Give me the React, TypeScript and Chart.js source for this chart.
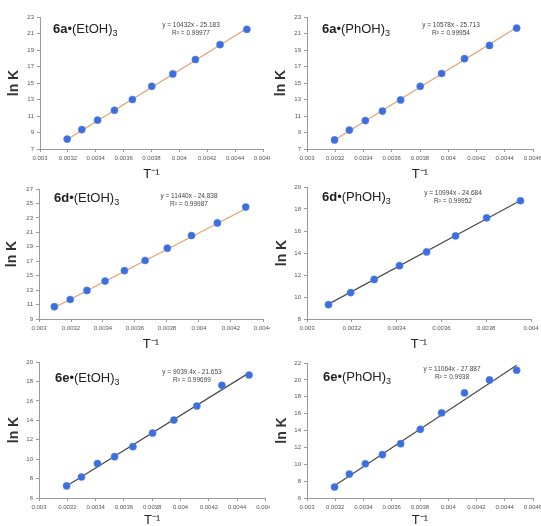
import React, { useEffect, useRef } from "react";
import { Chart, registerables } from "chart.js";

Chart.register(...registerables);

// 1/T values (K^-1)
const invT_313_223 = [0.003195, 0.0033, 0.003413, 0.003534, 0.003663, 0.003802, 0.003953, 0.004115, 0.004292, 0.004484];
const invT_323_233 = [0.003096, 0.003195, 0.0033, 0.003413, 0.003534, 0.003663, 0.003802, 0.003953, 0.004115, 0.004292];
const invT_323_253 = [0.003096, 0.003195, 0.0033, 0.003413, 0.003534, 0.003663, 0.003802, 0.003953];

// ln K values
const lnK_6a_EtOH = [8.2, 9.35, 10.5, 11.7, 13.0, 14.6, 16.1, 17.85, 19.65, 21.5];
const lnK_6a_PhOH = [8.1, 9.3, 10.45, 11.6, 12.95, 14.6, 16.15, 17.95, 19.55, 21.65];
const lnK_6d_EtOH = [10.7, 11.7, 12.95, 14.25, 15.7, 17.1, 18.8, 20.55, 22.3, 24.5];
const lnK_6d_PhOH = [9.3, 10.4, 11.6, 12.85, 14.1, 15.55, 17.2, 18.75];
const lnK_6e_EtOH = [7.24, 8.16, 9.55, 10.25, 11.28, 12.69, 14.03, 15.47, 17.6, 18.66];
const lnK_6e_PhOH = [7.3, 8.84, 10.06, 11.14, 12.44, 14.14, 16.08, 18.45, 19.99, 21.14];

// linear fits
const slopes = [10432, 10578, 11440, 10994, 9039.4, 11064];
const intercepts = [-25.183, -25.713, -24.838, -24.684, -21.653, -27.887];
const r2Labels = ["0.99977", "0.99954", "0.99987", "0.99952", "0.99699", "0.9938"];

// panel names
const compounds = ["6a", "6a", "6d", "6d", "6e", "6e"];
const solvents = ["(EtOH)", "(PhOH)", "(EtOH)", "(PhOH)", "(EtOH)", "(PhOH)"];

// axis ranges
const xMins = [0.003, 0.003, 0.003, 0.003, 0.003, 0.003];
const xMaxs = [0.0046, 0.0046, 0.0044, 0.004, 0.0046, 0.0046];
const yMins = [7, 7, 9, 8, 6, 6];
const yMaxs = [23, 23, 27, 20, 20, 22];
const yStepList = [2, 2, 2, 2, 2, 2];

const xData = [invT_313_223, invT_313_223, invT_323_233, invT_323_253, invT_313_223, invT_313_223];
const yData = [lnK_6a_EtOH, lnK_6a_PhOH, lnK_6d_EtOH, lnK_6d_PhOH, lnK_6e_EtOH, lnK_6e_PhOH];

const ORANGE = "#e2a06e";
const DARK = "#4a4a4a";
const BLUE = "#3d6fdc";
const FONT = "'Liberation Sans', Arial, sans-serif";

type Layout = {
  left: number; top: number; width: number; height: number;
  axisW: number; axisH: number; padTop: number; padRight: number;
  yTitlePad: number; xTitlePad: number; titleX: number; titleY: number; eqX: number; eqY: number;
  lineColor: string;
};

const layouts: Layout[] = [
  { left: 0, top: 0, width: 270, height: 180, axisW: 40, axisH: 31, padTop: 17, padRight: 7, yTitlePad: 6, xTitlePad: -2, titleX: 53, titleY: 21, eqX: 191, eqY: 21, lineColor: ORANGE },
  { left: 270, top: 0, width: 271, height: 180, axisW: 37, axisH: 31, padTop: 17, padRight: 8, yTitlePad: 3, xTitlePad: -2, titleX: 52, titleY: 21, eqX: 181, eqY: 21, lineColor: ORANGE },
  { left: 0, top: 180, width: 270, height: 171, axisW: 39, axisH: 32, padTop: 9, padRight: 7, yTitlePad: 4, xTitlePad: -1, titleX: 54, titleY: 10, eqX: 189, eqY: 12, lineColor: ORANGE },
  { left: 270, top: 180, width: 271, height: 171, axisW: 37, axisH: 32, padTop: 7, padRight: 10, yTitlePad: 4, xTitlePad: -1, titleX: 52, titleY: 9, eqX: 183, eqY: 9, lineColor: DARK },
  { left: 0, top: 351, width: 270, height: 175, axisW: 39, axisH: 28, padTop: 11, padRight: 4, yTitlePad: 6, xTitlePad: -2, titleX: 55, titleY: 19, eqX: 192, eqY: 17, lineColor: DARK },
  { left: 270, top: 351, width: 271, height: 175, axisW: 37, axisH: 28, padTop: 12, padRight: 8, yTitlePad: 4, xTitlePad: -2, titleX: 53, titleY: 18, eqX: 182, eqY: 14, lineColor: DARK },
];

function fmtX(v: number) {
  return String(parseFloat(v.toFixed(4)));
}

function Panel({ i }: { i: number }) {
  const ref = useRef<HTMLCanvasElement | null>(null);
  const L = layouts[i];
  useEffect(() => {
    if (!ref.current) return;
    const xs = xData[i];
    const ys = yData[i];
    const pts = xs.map((x, k) => ({ x, y: ys[k] }));
    const x0 = xs[0];
    const x1 = xs[xs.length - 1];
    const fit = [
      { x: x0, y: slopes[i] * x0 + intercepts[i] },
      { x: x1, y: slopes[i] * x1 + intercepts[i] },
    ];
    const axisColor = "#9a9a9a";
    const chart = new Chart(ref.current, {
      type: "scatter",
      data: {
        datasets: [
          {
            data: pts,
            backgroundColor: BLUE,
            borderColor: "#5a86e6",
            borderWidth: 0.5,
            pointRadius: 3.6,
          },
          {
            type: "line",
            data: fit,
            borderColor: L.lineColor,
            borderWidth: 1.2,
            pointRadius: 0,
            showLine: true,
            fill: false,
          } as any,
        ],
      },
      options: {
        animation: false,
        responsive: false,
        layout: { padding: { top: L.padTop, right: L.padRight, left: 0, bottom: 0 } },
        plugins: { legend: { display: false }, tooltip: { enabled: false } },
        scales: {
          x: {
            type: "linear",
            min: xMins[i],
            max: xMaxs[i],
            afterFit: (s: any) => { s.height = L.axisH; s.paddingRight = 0; s.paddingLeft = 0; },
            afterBuildTicks: (s: any) => {
              const t = [];
              for (let v = xMins[i]; v <= xMaxs[i] + 1e-9; v += 0.0002) t.push({ value: parseFloat(v.toFixed(4)) });
              s.ticks = t;
            },
            ticks: {
              callback: (v: any) => fmtX(Number(v)),
              font: { size: 6, family: FONT },
              color: "#555",
              padding: 3,
              maxRotation: 0,
              autoSkip: false,
            },
            grid: { display: true, drawOnChartArea: false, drawTicks: true, tickLength: 3, color: axisColor },
            border: { display: true, color: axisColor },
            title: {
              display: true,
              text: "T\u207B\u00B9",
              font: { size: 13, family: FONT },
              color: "#222",
              padding: { top: 0, bottom: L.xTitlePad },
            },
          },
          y: {
            type: "linear",
            min: yMins[i],
            max: yMaxs[i],
            afterFit: (s: any) => { s.width = L.axisW; s.paddingTop = 0; s.paddingBottom = 0; },
            ticks: {
              stepSize: yStepList[i],
              font: { size: 6, family: FONT },
              color: "#555",
              padding: 3,
            },
            grid: { display: true, drawOnChartArea: false, drawTicks: true, tickLength: 3, color: axisColor },
            border: { display: true, color: axisColor },
            title: {
              display: true,
              text: "ln K",
              font: { size: 14, family: FONT, weight: "bold" },
              color: "#333",
              padding: { top: L.yTitlePad, bottom: 0 },
            },
          },
        },
      },
    });
    return () => chart.destroy();
  }, [i]);

  const eq = `y = ${slopes[i]}x - ${Math.abs(intercepts[i]).toFixed(3)}`;
  return (
    <div style={{ position: "absolute", left: L.left, top: L.top, width: L.width, height: L.height }}>
      <canvas ref={ref} width={L.width} height={L.height} style={{ width: L.width, height: L.height, display: "block" }} />
      <div
        style={{
          position: "absolute", left: L.titleX, top: L.titleY, fontFamily: FONT, fontSize: 13,
          color: "#222", whiteSpace: "nowrap", lineHeight: "16px",
        }}
      >
        <b>{compounds[i]}</b>
        {"\u2022" + solvents[i]}
        <sub style={{ fontSize: 9, verticalAlign: "-3px" }}>3</sub>
      </div>
      <div
        style={{
          position: "absolute", left: L.eqX - 40, top: L.eqY, width: 80, textAlign: "center",
          fontFamily: FONT, fontSize: 6.5, color: "#444", lineHeight: "8px", whiteSpace: "nowrap",
        }}
      >
        <div>{eq}</div>
        <div>R{"\u00B2"} = {r2Labels[i]}</div>
      </div>
    </div>
  );
}

export default function App() {
  return (
    <div style={{ position: "absolute", left: 0, top: 0, width: 541, height: 526, background: "#fff", overflow: "hidden" }}>
      {[0, 1, 2, 3, 4, 5].map((i) => (
        <Panel key={i} i={i} />
      ))}
    </div>
  );
}
